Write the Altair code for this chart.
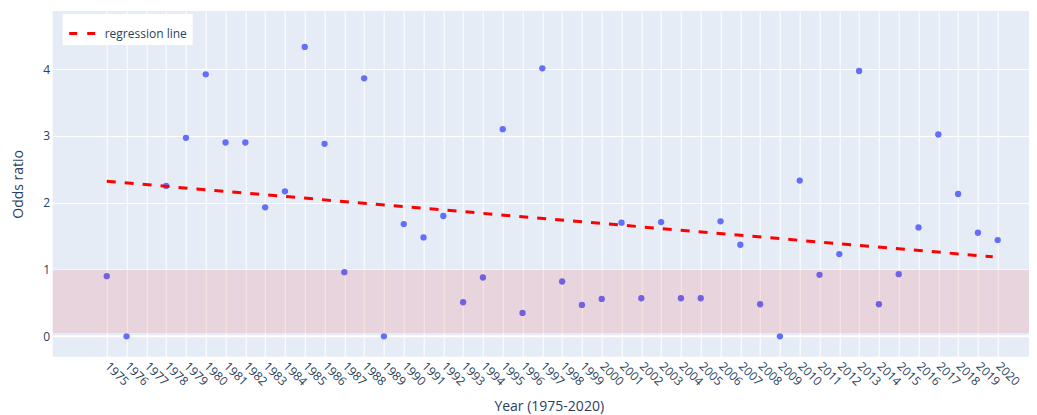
import altair as alt
import pandas as pd

# ---- data ----
years = [1975, 1976, 1978, 1979, 1980, 1981, 1982, 1983, 1984, 1985, 1986, 1987,
         1988, 1989, 1990, 1991, 1992, 1993, 1994, 1995, 1996, 1997, 1998, 1999,
         2000, 2001, 2002, 2003, 2004, 2005, 2006, 2007, 2008, 2009, 2010, 2011,
         2012, 2013, 2014, 2015, 2016, 2017, 2018, 2019, 2020]
odds = [0.90, 0.00, 2.25, 2.97, 3.92, 2.90, 2.90, 1.93, 2.17, 4.33, 2.88, 0.96,
        3.86, 0.00, 1.68, 1.48, 1.80, 0.51, 0.88, 3.10, 0.35, 4.01, 0.82, 0.47,
        0.56, 1.70, 0.57, 1.71, 0.57, 0.57, 1.72, 1.37, 0.48, 0.00, 2.33, 0.92,
        1.23, 3.97, 0.48, 0.93, 1.63, 3.02, 2.13, 1.55, 1.44]

reg_x = [1975.0, 2019.75]
reg_y = [2.32, 1.19]
reg_name = ["regression line", "regression line"]

band_lo = [0.05]
band_hi = [1.0]

tick_years = list(range(1975, 2021))
y_ticks = [0, 1, 2, 3, 4]

# ---- layout ----
W = 976.3
H = 345.7
FONT = "Open Sans"
TXT = "#2a3f5f"

xscale = alt.Scale(domain=[1972.27, 2021.58], nice=False, zero=False)
yscale = alt.Scale(domain=[-0.305, 4.868], nice=False, zero=False)

pts_df = pd.DataFrame({"year": years, "odds": odds})
reg_df = pd.DataFrame({"year": reg_x, "odds": reg_y, "series": reg_name})
band_df = pd.DataFrame({"lo": band_lo, "hi": band_hi})
zero_df = pd.DataFrame({"z": [0.0]})

x_axis = alt.Axis(
    values=tick_years, format="d", labelAngle=45, labelAlign="left",
    labelBaseline="middle", labelPadding=7, ticks=False, domain=False,
    grid=True, gridColor="white", gridWidth=1, labelOverlap=False,
    labelBound=False, labelFlush=False,
    labelFont=FONT, labelFontSize=12, labelColor=TXT,
    title="Year (1975-2020)", titleFont=FONT, titleFontSize=14,
    titleFontWeight="normal", titleColor=TXT, titleX=496, titleY=54,
    titleBaseline="alphabetic", titleAlign="center",
)
y_axis = alt.Axis(
    values=y_ticks, format="d", ticks=False, domain=False, grid=True,
    gridColor="white", gridWidth=1, labelPadding=3,
    labelFont=FONT, labelFontSize=12, labelColor=TXT,
    title="Odds ratio", titleFont=FONT, titleFontSize=14,
    titleFontWeight="normal", titleColor=TXT, titleX=-34,
    titleBaseline="middle",
)

zero = alt.Chart(zero_df).mark_rule(color="white", strokeWidth=2).encode(
    x=alt.value(0), x2=alt.value(W), y=alt.Y("z:Q", scale=yscale, axis=y_axis)
)

pts = alt.Chart(pts_df).mark_circle(color="#636efa", opacity=1, size=40).encode(
    x=alt.X("year:Q", scale=xscale, axis=x_axis),
    y=alt.Y("odds:Q", scale=yscale, axis=y_axis),
)

band = alt.Chart(band_df).mark_rect(color="red", opacity=0.1).encode(
    x=alt.value(0), x2=alt.value(W),
    y=alt.Y("lo:Q", scale=yscale, axis=y_axis), y2="hi:Q",
)

reg = alt.Chart(reg_df).mark_line(strokeWidth=3, strokeDash=[9, 9]).encode(
    x=alt.X("year:Q", scale=xscale, axis=x_axis),
    y=alt.Y("odds:Q", scale=yscale, axis=y_axis),
    color=alt.Color(
        "series:N",
        scale=alt.Scale(domain=["regression line"], range=["red"]),
        legend=alt.Legend(
            title=None, orient="none", legendX=10, legendY=3,
            fillColor="white", padding=5, symbolType="stroke",
            symbolStrokeWidth=3, symbolSize=676, symbolDash=[8, 10],
            labelFont=FONT, labelFontSize=12, labelColor=TXT, labelOffset=8,
        ),
    ),
)

chart = (
    alt.layer(zero, pts, band, reg)
    .properties(
        width=W, height=H,
        background="white",
        autosize=alt.AutoSizeParams(type="none"),
        padding={"left": 44.7, "top": 3, "right": 0, "bottom": 58.3},
    )
    .configure_view(fill="#e5ecf6", strokeWidth=0)
    .configure_axisX(labelOverlap=False)
)

chart.save("out.html", embed_options={"renderer": "svg", "actions": False})
